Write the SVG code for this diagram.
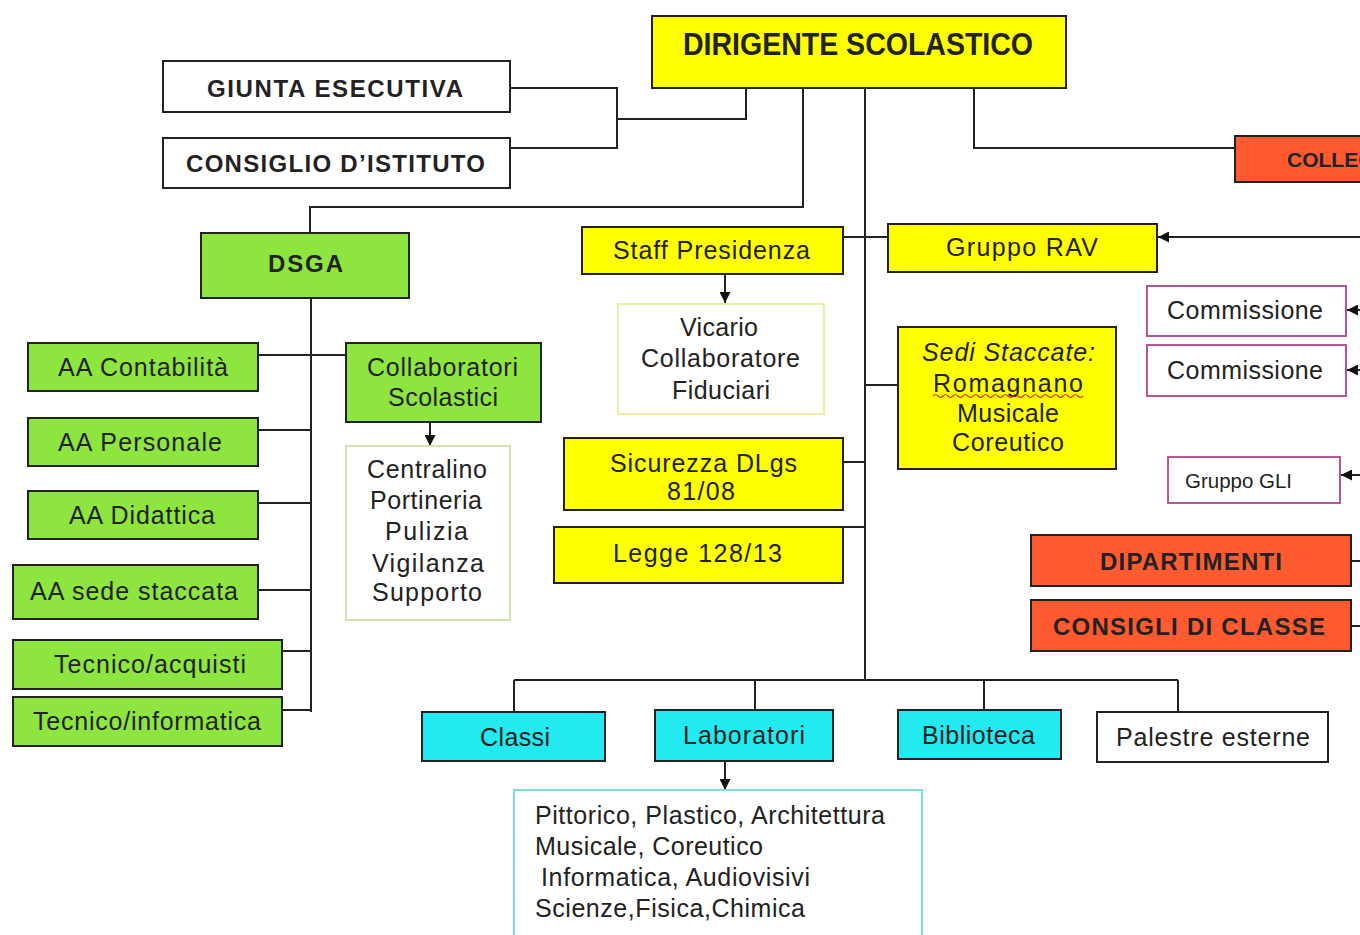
<svg xmlns="http://www.w3.org/2000/svg" width="1360" height="935" viewBox="0 0 1360 935">
<defs>
<marker id="ah" viewBox="0 0 10 10" refX="10" refY="5" markerWidth="11" markerHeight="11" orient="auto" markerUnits="userSpaceOnUse"><path d="M0,0 L10,5 L0,10 z" fill="#111"/></marker>
<style>
text{font-family:"Liberation Sans",Arial,sans-serif;fill:#222;font-size:25px}
.b{font-weight:bold;font-size:24px}
.box{stroke:#222;stroke-width:2}
.y{fill:#FFFF00}
.g{fill:#8EE53F}
.c{fill:#22EAF0}
.o{fill:#FF5A30}
.w{fill:#fff}
.pk{fill:#fff;stroke:#B5559A;stroke-width:2}
.ly{fill:#fff;stroke:#EFEFA0;stroke-width:2}
.lg{fill:#fff;stroke:#D3E4B0;stroke-width:2}
.lc{fill:#fff;stroke:#7FDDE0;stroke-width:2}
.ln{fill:none;stroke:#222;stroke-width:2}
.ar{fill:none;stroke:#222;stroke-width:2;marker-end:url(#ah)}
</style>
</defs>
<rect width="1360" height="935" fill="#fff"/>

<g id="connectors">
<path class="ln" d="M510,88 H617 V148 H510 M617,119 H746 V88"/>
<path class="ln" d="M803,88 V207 H310 V233"/>
<path class="ln" d="M865,88 V680"/>
<path class="ln" d="M974,88 V148 H1235"/>
<path class="ln" d="M311,298 V712"/>
<path class="ln" d="M258,355 H346 M258,430 H311 M258,503 H311 M258,590 H311 M282,651 H311 M282,710 H311"/>
<path class="ln" d="M843,237 H888 M865,385 H898 M843,462 H865 M843,527 H865"/>
<path class="ln" d="M514,680 H1178 M514,680 V712 M755,680 V710 M984,680 V710 M1178,680 V712"/>
<path class="ln" d="M1351,561 H1360 M1351,626 H1360"/>
<path class="ar" d="M725,274 V303"/>
<path class="ar" d="M430,422 V446"/>
<path class="ar" d="M725,761 V790"/>
<path class="ar" d="M1360,237 H1158"/>
<path class="ar" d="M1360,310 H1347"/>
<path class="ar" d="M1360,370 H1347"/>
<path class="ar" d="M1360,475 H1341"/>
</g>

<g id="dirigente"><rect class="box y" x="652" y="16" width="414" height="72"/><text class="b" x="683" y="55" style="font-size:31px" textLength="350" lengthAdjust="spacingAndGlyphs">DIRIGENTE SCOLASTICO</text></g>
<g id="giunta"><rect class="box w" x="163" y="61" width="347" height="51"/><text class="b" x="207" y="97" textLength="256">GIUNTA ESECUTIVA</text></g>
<g id="consiglio"><rect class="box w" x="163" y="138" width="347" height="50"/><text class="b" x="186" y="172" textLength="299">CONSIGLIO D’ISTITUTO</text></g>
<g id="collegio"><rect class="box o" x="1235" y="136" width="130" height="46"/><text class="b" x="1287" y="167" style="font-size:21px">COLLEGIO</text></g>

<g id="dsga"><rect class="box g" x="201" y="233" width="208" height="65"/><text class="b" x="268" y="272" textLength="75">DSGA</text></g>
<g id="aa-contabilita"><rect class="box g" x="28" y="343" width="230" height="48"/><text x="58" y="376" textLength="170">AA Contabilità</text></g>
<g id="aa-personale"><rect class="box g" x="28" y="418" width="230" height="48"/><text x="58" y="451" textLength="164">AA Personale</text></g>
<g id="aa-didattica"><rect class="box g" x="28" y="491" width="230" height="48"/><text x="69" y="524" textLength="146">AA Didattica</text></g>
<g id="aa-sede"><rect class="box g" x="13" y="565" width="245" height="54"/><text x="30" y="600" textLength="208">AA sede staccata</text></g>
<g id="tecnico-acquisti"><rect class="box g" x="13" y="640" width="269" height="49"/><text x="54" y="673" textLength="192">Tecnico/acquisti</text></g>
<g id="tecnico-informatica"><rect class="box g" x="13" y="697" width="269" height="49"/><text x="33" y="730" textLength="228">Tecnico/informatica</text></g>
<g id="collaboratori"><rect class="box g" x="346" y="343" width="195" height="79"/><text x="367" y="376" textLength="151">Collaboratori</text><text x="388" y="406" textLength="110">Scolastici</text></g>
<g id="centralino"><rect class="lg" x="346" y="446" width="164" height="174"/>
<text x="367" y="478" textLength="120">Centralino</text>
<text x="370" y="509" textLength="112">Portineria</text>
<text x="385" y="540" textLength="83">Pulizia</text>
<text x="372" y="572" textLength="112">Vigilanza</text>
<text x="372" y="601" textLength="110">Supporto</text></g>

<g id="staff"><rect class="box y" x="582" y="227" width="261" height="47"/><text x="613" y="259" textLength="197">Staff Presidenza</text></g>
<g id="rav"><rect class="box y" x="888" y="224" width="269" height="48"/><text x="946" y="256" textLength="152">Gruppo RAV</text></g>
<g id="vicario"><rect class="ly" x="618" y="304" width="206" height="110"/>
<text x="680" y="336" textLength="78">Vicario</text>
<text x="641" y="367" textLength="159">Collaboratore</text>
<text x="672" y="399" textLength="98">Fiduciari</text></g>
<g id="sedi"><rect class="box y" x="898" y="327" width="218" height="142"/>
<text x="922" y="361" font-style="italic" textLength="173">Sedi Staccate:</text>
<text x="933" y="392" textLength="150">Romagnano</text>
<path d="M933,396 q2.5,-3 5,0 t5,0 t5,0 t5,0 t5,0 t5,0 t5,0 t5,0 t5,0 t5,0 t5,0 t5,0 t5,0 t5,0 t5,0 t5,0 t5,0 t5,0 t5,0 t5,0 t5,0 t5,0 t5,0 t5,0 t5,0 t5,0 t5,0 t5,0 t5,0 t5,0" fill="none" stroke="#E03020" stroke-width="1.2"/>
<text x="957" y="422" textLength="102">Musicale</text>
<text x="952" y="451" textLength="112">Coreutico</text></g>
<g id="sicurezza"><rect class="box y" x="564" y="438" width="279" height="72"/>
<text x="610" y="472" textLength="187">Sicurezza DLgs</text>
<text x="667" y="500" textLength="68">81/08</text></g>
<g id="legge"><rect class="box y" x="554" y="527" width="289" height="56"/><text x="613" y="562" textLength="169">Legge 128/13</text></g>

<g id="commissione1"><rect class="pk" x="1147" y="286" width="199" height="50"/><text x="1167" y="319" textLength="156">Commissione</text></g>
<g id="commissione2"><rect class="pk" x="1147" y="345" width="199" height="51"/><text x="1167" y="379" textLength="156">Commissione</text></g>
<g id="gli"><rect class="pk" x="1168" y="457" width="172" height="46"/><text x="1185" y="488" style="font-size:21px" textLength="107" lengthAdjust="spacingAndGlyphs">Gruppo GLI</text></g>
<g id="dipartimenti"><rect class="box o" x="1031" y="535" width="320" height="51"/><text class="b" x="1100" y="570" textLength="182">DIPARTIMENTI</text></g>
<g id="consigli-classe"><rect class="box o" x="1031" y="600" width="320" height="51"/><text class="b" x="1053" y="635" textLength="272">CONSIGLI DI CLASSE</text></g>

<g id="classi"><rect class="box c" x="422" y="712" width="183" height="49"/><text x="480" y="746" textLength="70">Classi</text></g>
<g id="laboratori"><rect class="box c" x="655" y="710" width="178" height="51"/><text x="683" y="744" textLength="122">Laboratori</text></g>
<g id="biblioteca"><rect class="box c" x="898" y="710" width="163" height="49"/><text x="922" y="744" textLength="113">Biblioteca</text></g>
<g id="palestre"><rect class="box w" x="1097" y="712" width="231" height="50"/><text x="1116" y="746" textLength="194">Palestre esterne</text></g>
<g id="laboratori-lista"><rect class="lc" x="514" y="790" width="408" height="160"/>
<text x="535" y="824" textLength="350">Pittorico, Plastico, Architettura</text>
<text x="535" y="855" textLength="228">Musicale, Coreutico</text>
<text x="541" y="886" textLength="269">Informatica, Audiovisivi</text>
<text x="535" y="917" textLength="270">Scienze,Fisica,Chimica</text></g>
</svg>
